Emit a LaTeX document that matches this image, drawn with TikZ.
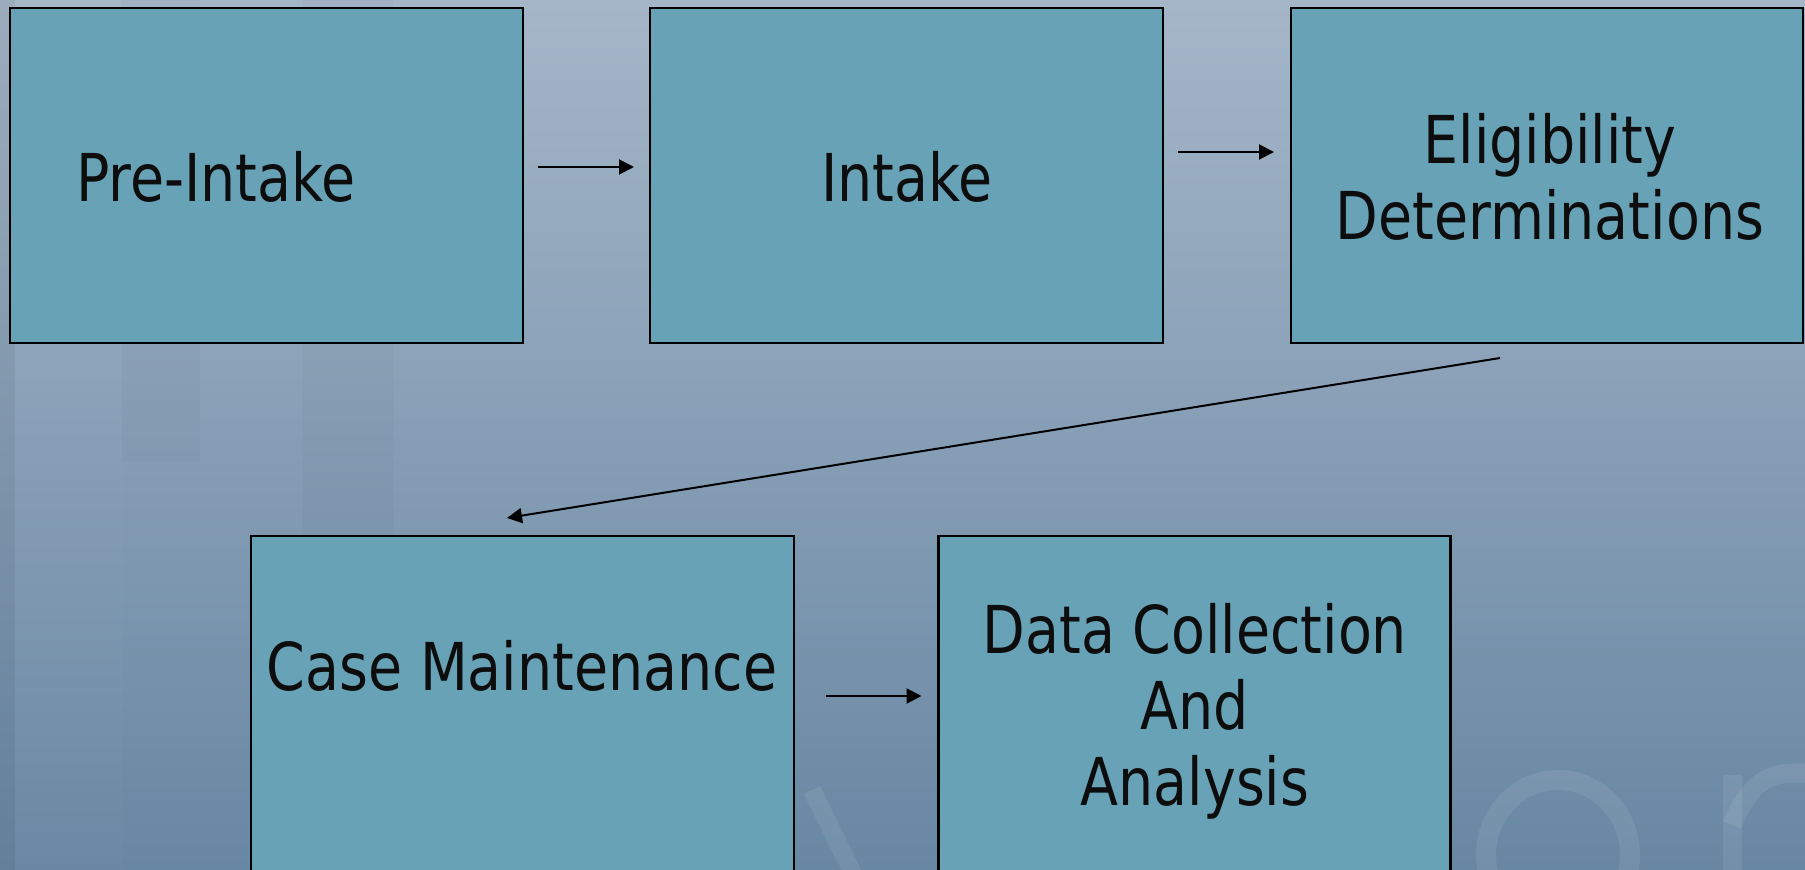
\documentclass[tikz,border=0pt]{standalone}
\usepackage{fontspec}
\setmainfont{DejaVu Sans}[FakeStretch=0.84]
\usetikzlibrary{arrows.meta}
\definecolor{bgtop}{RGB}{165,182,200}
\definecolor{bgmid}{RGB}{146,167,189}
\definecolor{bgbot}{RGB}{104,135,163}
\definecolor{boxfill}{RGB}{103,162,182}
\begin{document}
\begin{tikzpicture}[x=1pt,y=-1pt,
  stagebox/.style={draw=black, line width=2.4pt, fill=boxfill, inner sep=0pt, outer sep=0pt},
  steptext/.style={font=\fontsize{66}{76}\selectfont, text=black!95, inner sep=0pt, align=center},
  flow/.style={draw=black, line width=2pt, -{Triangle[length=15pt,width=15pt]}},
  wmark/.style={draw=white, draw opacity=0.08},
  band/.style={fill=black, fill opacity=0.025}
]
\useasboundingbox (0,0) rectangle (1805,870);
\clip (0,0) rectangle (1805,870);
% background
\shade[top color=bgtop, middle color=bgmid, bottom color=bgbot] (0,0) rectangle (1805,870);
\fill[band, fill opacity=0.05] (0,0) rectangle (15,870);
\fill[white, fill opacity=0.015] (15,0) rectangle (122,870);
\fill[band, fill opacity=0.02] (122,0) rectangle (200,462);
\fill[band] (302,0) rectangle (394,535);
% watermark letters
\draw[wmark, line width=18pt] (812,790) -- (856,880);
\draw[wmark, line width=20pt] (1558,855) ellipse (72pt and 75pt);
\draw[wmark, line width=19pt] (1732,880) -- (1732,775);
\draw[wmark, line width=19pt] (1732,825) .. controls (1750,782) and (1770,773) .. (1795,773) .. controls (1812,773) .. (1830,790);
% boxes
\node[stagebox, minimum width=513pt, minimum height=335pt] (pre) at (266.5,175.5) {};
\node[stagebox, minimum width=513pt, minimum height=335pt] (intake) at (906.5,175.5) {};
\node[stagebox, minimum width=512pt, minimum height=335pt] (elig) at (1547,175.5) {};
\node[stagebox, minimum width=543pt, minimum height=364pt] (case) at (522.5,718) {};
\node[stagebox, minimum width=512pt, minimum height=364pt] (data) at (1194.5,718) {};
% texts
\node[steptext, anchor=base west] (pretext) at (76,201) {Pre-Intake};
\node[steptext, anchor=base] (intaketext) at (907,201) {Intake};
\node[steptext, anchor=base] (eligtext) at (1550,239) {Eligibility\\Determinations};
\node[steptext, anchor=base] (casetext) at (522,690) {Case Maintenance};
\node[steptext, anchor=base] (datatext) at (1195,805) {Data Collection\\And\\Analysis};
% connectors
\draw[flow] ([xshift=15pt,yshift=8.5pt]pre.east) -- ([xshift=-16pt,yshift=8.5pt]intake.west);
\draw[flow] ([xshift=15pt,yshift=23.5pt]intake.east) -- ([xshift=-17pt,yshift=23.5pt]elig.west);
\draw[flow] ([xshift=-47pt,yshift=-15pt]elig.south) -- ([xshift=-15.5pt,yshift=18pt]case.north);
\draw[flow] ([xshift=32pt,yshift=22pt]case.east) -- ([xshift=-17pt,yshift=22pt]data.west);
\end{tikzpicture}
\end{document}
